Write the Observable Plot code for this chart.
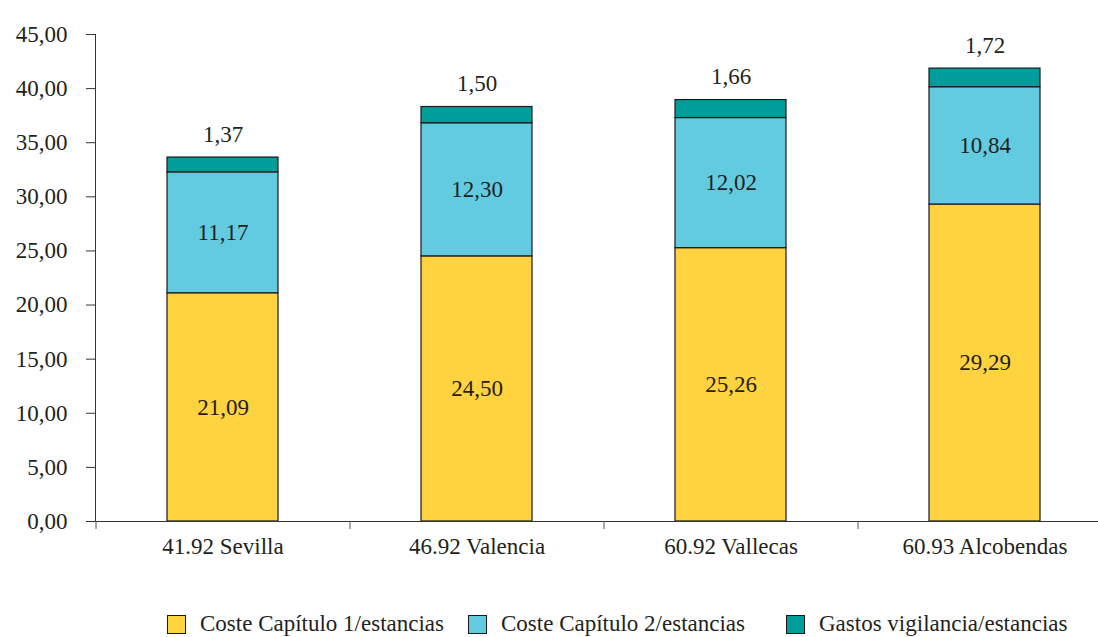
<!DOCTYPE html>
<html>
<head>
<meta charset="utf-8">
<script src="https://cdn.jsdelivr.net/npm/d3@7"></script>
<script src="https://cdn.jsdelivr.net/npm/@observablehq/plot@0.6"></script>
<style>
  html, body { margin: 0; padding: 0; background: #fff; }
  #wrap { position: relative; width: 1098px; height: 637px; font-family: "Liberation Serif", serif; color: #231f20; }
  #wrap svg text { font-family: "Liberation Serif", serif; }
  .leg { position: absolute; top: 611px; display: flex; align-items: center; font-size: 23px; white-space: nowrap; }
  .sw { width: 17px; height: 17px; border: 1px solid #1a1a1a; margin-right: 14px; }
</style>
</head>
<body>
<div id="wrap"></div>
<script>
const categories = ["41.92 Sevilla", "46.92 Valencia", "60.92 Vallecas", "60.93 Alcobendas"];
const series = ["Coste Capítulo 1/estancias", "Coste Capítulo 2/estancias", "Gastos vigilancia/estancias"];
const cap1 = [21.09, 24.50, 25.26, 29.29];
const cap2 = [11.17, 12.30, 12.02, 10.84];
const vigilancia = [1.37, 1.50, 1.66, 1.72];
const yTicks = [0, 5, 10, 15, 20, 25, 30, 35, 40, 45];
const colors = ["#FFD23F", "#63CBE0", "#009E9A"];

const fmt = v => v.toFixed(2).replace(".", ",");

const data = categories.flatMap((c, i) => [
  {cat: c, series: series[0], value: cap1[i]},
  {cat: c, series: series[1], value: cap2[i]},
  {cat: c, series: series[2], value: vigilancia[i]}
]);
const inner = data.filter(d => d.series !== series[2]);
const tops = categories.map((c, i) => ({cat: c, total: cap1[i] + cap2[i] + vigilancia[i], label: fmt(vigilancia[i])}));

const step = 254;
const chart = Plot.plot({
  width: 1098,
  height: 590,
  marginLeft: 95,
  marginRight: 0,
  marginTop: 34,
  marginBottom: 69,
  style: "font-family: 'Liberation Serif', serif; font-size: 23px; color: #231f20; background: #fff;",
  x: {domain: categories, range: [95, 95 + step * 4], paddingInner: 0.563, paddingOuter: 0.2815, align: 0.5},
  y: {domain: [0, 45]},
  color: {domain: series, range: colors},
  marks: [
    Plot.barY(data, Plot.stackY({x: "cat", y: "value", fill: "series", stroke: "#1a1a1a", strokeWidth: 1.2})),
    Plot.text(inner, Plot.stackY({x: "cat", y: "value", z: "series", text: d => fmt(d.value), fontSize: 23})),
    Plot.text(tops, {x: "cat", y: "total", text: "label", dy: -23, fontSize: 23}),
    Plot.axisY({ticks: yTicks, tickFormat: fmt, tickSize: 9, tickPadding: 19, label: null, fontSize: 23, stroke: "#333"}),
    Plot.frame({anchor: "left", stroke: "#333"}),
    Plot.ruleY([0], {stroke: "#333"}),
    Plot.axisX({tickSize: 8, tickFormat: () => "", dx: -step / 2, label: null, stroke: "#555"}),
    Plot.axisX({tickSize: 0, tickPadding: 16, label: null, fontSize: 23})
  ]
});
const wrap = document.getElementById("wrap");
wrap.appendChild(chart);

const legLeft = [167, 468, 786];
series.forEach((s, i) => {
  const item = document.createElement("div");
  item.className = "leg";
  item.style.left = legLeft[i] + "px";
  const sw = document.createElement("div");
  sw.className = "sw";
  sw.style.background = colors[i];
  const t = document.createElement("span");
  t.textContent = s;
  item.appendChild(sw);
  item.appendChild(t);
  wrap.appendChild(item);
});
</script>
</body>
</html>
